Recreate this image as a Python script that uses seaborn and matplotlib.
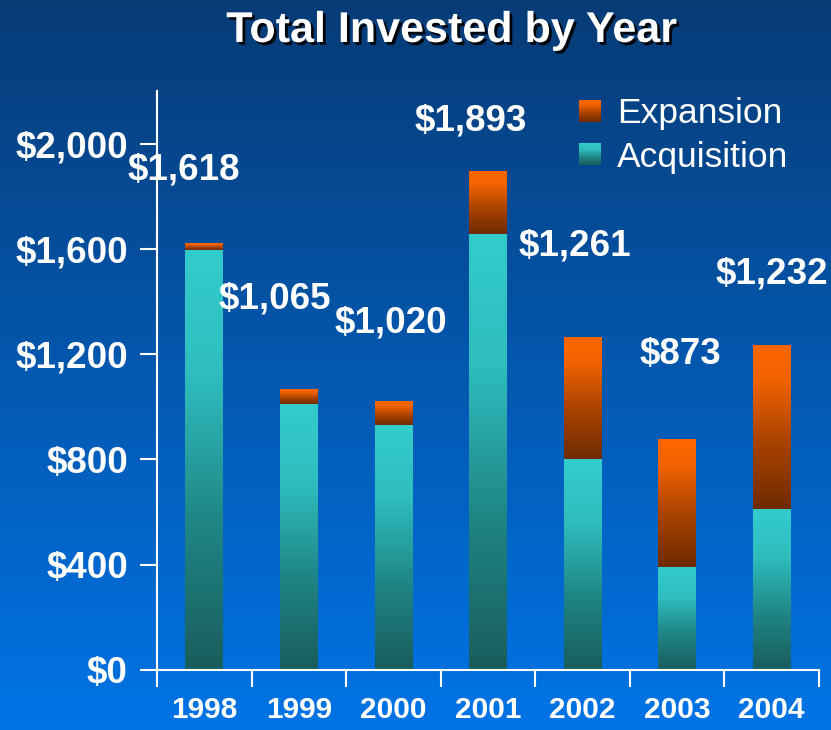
import numpy as np
import matplotlib
matplotlib.use('Agg')
import matplotlib.pyplot as plt
import seaborn as sns
import matplotlib.patheffects as pe
from matplotlib.colors import LinearSegmentedColormap, Normalize
from matplotlib.legend_handler import HandlerBase
from matplotlib.image import BboxImage
from matplotlib.transforms import Bbox, TransformedBbox
from matplotlib.patches import Patch
from matplotlib.ticker import FuncFormatter, FixedLocator

# data
years = ['1998', '1999', '2000', '2001', '2002', '2003', '2004']
acquisition = [1595, 1010, 930, 1655, 800, 390, 610]
expansion = [23, 55, 90, 238, 461, 483, 622]
totals = [a + e for a, e in zip(acquisition, expansion)]
yticks = [0, 400, 800, 1200, 1600, 2000]

# where the total labels sit (offset from bar centre, height in $)
label_dx = [-0.22, -0.25, -0.03, -0.18, -0.08, 0.03, 0.0]
label_y = [1900, 1410, 1320, 2085, 1612, 1200, 1505]

sns.set_style('ticks')
plt.rcParams['font.family'] = ['Liberation Sans', 'DejaVu Sans']

acq_cmap = LinearSegmentedColormap.from_list(
    'acq', [(0, '#1a5d5d'), (0.35, '#1f8585'), (0.7, '#2fbdbd'), (1, '#33cccc')])
exp_cmap = LinearSegmentedColormap.from_list(
    'exp', [(0, '#6e2a00'), (0.4, '#a84200'), (0.8, '#f26300'), (1, '#ff6600')])
bg_cmap = LinearSegmentedColormap.from_list('bg', ['#0074e6', '#073b76'])
grad = np.linspace(0, 1, 256).reshape(-1, 1)

fig = plt.figure(figsize=(8.31, 7.30), dpi=100)

# background gradient
bg = fig.add_axes([0, 0, 1, 1], zorder=-10)
bg.imshow(grad, cmap=bg_cmap, aspect='auto', origin='lower', extent=(0, 1, 0, 1))
bg.axis('off')

ax = fig.add_axes([157 / 831, 60 / 730, 662 / 831, 579 / 730])
ax.set_facecolor('none')

sns.barplot(x=years, y=totals, color='#ff6600', width=0.4, errorbar=None, ax=ax)
sns.barplot(x=years, y=acquisition, color='#33cccc', width=0.4, errorbar=None, ax=ax)

# swap flat bars for vertical gradients
n = len(years)
tot_bars = ax.patches[:n]
acq_bars = ax.patches[n:2 * n]
for tb, ab in zip(tot_bars, acq_bars):
    x0 = ab.get_x()
    x1 = x0 + ab.get_width()
    h_acq = ab.get_height()
    h_tot = tb.get_height()
    ax.imshow(grad, cmap=acq_cmap, aspect='auto', origin='lower',
              extent=(x0, x1, 0, h_acq), zorder=2)
    ax.imshow(grad, cmap=exp_cmap, aspect='auto', origin='lower',
              extent=(x0, x1, h_acq, h_tot), zorder=2)
    tb.set_visible(False)
    ab.set_visible(False)

for i, (t, dx, yl) in enumerate(zip(totals, label_dx, label_y)):
    ax.text(i + dx, yl, f'${t:,}', ha='center', va='center', color='white',
            fontsize=26.5, fontweight='bold', clip_on=False, zorder=5)

ax.set_xlim(-0.5, n - 0.5)
ax.set_ylim(0, 2200)
ax.set_xlabel('')
ax.set_ylabel('')
ax.set_yticks(yticks)
ax.yaxis.set_major_formatter(FuncFormatter(lambda v, p: f'${v:,.0f}'))
ax.xaxis.set_minor_locator(FixedLocator(np.arange(-0.5, n, 1.0)))

for s in ['top', 'right']:
    ax.spines[s].set_visible(False)
for s in ['left', 'bottom']:
    ax.spines[s].set_color('white')
    ax.spines[s].set_linewidth(1.5)

ax.tick_params(axis='y', colors='white', length=12, width=1.5, pad=9,
               labelsize=26.5)
ax.tick_params(axis='x', which='major', colors='white', length=0, pad=18.5,
               labelsize=21.5)
ax.tick_params(axis='x', which='minor', colors='white', length=12, width=1.5)
for lab in ax.get_xticklabels() + ax.get_yticklabels():
    lab.set_fontweight('bold')


class GradientHandler(HandlerBase):
    def __init__(self, cmap):
        super().__init__()
        self.cmap = cmap

    def create_artists(self, legend, orig_handle, xdescent, ydescent,
                       width, height, fontsize, trans):
        side = min(width, height)
        y0 = -ydescent + (height - side) / 2
        bb = TransformedBbox(Bbox.from_bounds(-xdescent, y0, side, side), trans)
        img = BboxImage(bb, cmap=self.cmap, norm=Normalize(0, 1),
                        interpolation='bilinear', origin='lower')
        img.set_data(grad)
        return [img]


h_exp = Patch(label='Expansion')
h_acq = Patch(label='Acquisition')
leg = ax.legend(handles=[h_exp, h_acq],
                handler_map={h_exp: GradientHandler(exp_cmap),
                             h_acq: GradientHandler(acq_cmap)},
                loc='upper left', bbox_to_anchor=(579 / 831, 633 / 730),
                bbox_transform=fig.transFigure, frameon=False, fontsize=25.5,
                borderpad=0, borderaxespad=0, handlelength=0.62,
                handleheight=0.62, handletextpad=0.45, labelspacing=0.3)
for t in leg.get_texts():
    t.set_color('white')

fig.text(451 / 831, 699 / 730, 'Total Invested by Year', ha='center',
         va='center', color='white', fontsize=31, fontweight='bold',
         path_effects=[pe.withSimplePatchShadow(offset=(2, -2),
                                                shadow_rgbFace='black',
                                                alpha=0.9)])

fig.savefig('out.png', dpi=100)
